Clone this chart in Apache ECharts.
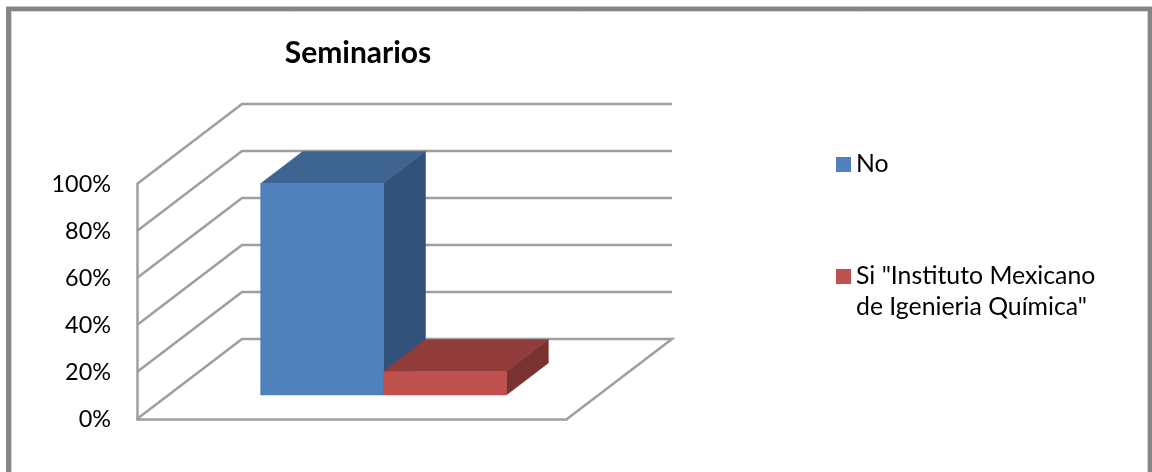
<!DOCTYPE html>
<html>
<head>
<meta charset="utf-8">
<style>html,body{margin:0;padding:0;background:#fff}#c{width:1152px;height:472px}</style>
<script src="https://cdn.jsdelivr.net/npm/echarts@6/dist/echarts.min.js"></script>
</head>
<body>
<div id="c"></div>
<script>
const chartTitle = 'Seminarios';
const seriesNames = ['No', 'Si "Instituto Mexicano de Igenieria Química"'];
const seriesValues = [90, 10];
const yTicks = [0, 20, 40, 60, 80, 100];
const frontColors = ['#4f81bd', '#c0504d'];
const topColors = ['#3e6591', '#913c3a'];
const sideColors = ['#31527a', '#7a3230'];
const FONT = 'Lato';
const GRID_COLOR = '#9f9f9f';

// Oblique projection of the 3D plot box, in axis units
const DEPTH_X = 105 / 430;
const DEPTH_Y = 34;
const GAP_WIDTH = 1.5;
const GAP_DEPTH = 1.5;
const barW = 1 / (seriesNames.length + GAP_WIDTH);
const barD = 1 / (1 + GAP_DEPTH);
const z0 = (1 - barD) / 2, z1 = z0 + barD;

function p3(api, x, y, z) {
  return api.coord([x + z * DEPTH_X, y + z * DEPTH_Y]);
}
function renderWalls(params, api) {
  const t = api.value(0);
  const style = { stroke: GRID_COLOR, lineWidth: 2.5, fill: null, lineJoin: 'miter' };
  const pts = [p3(api, 0, t, 0), p3(api, 0, t, 1), p3(api, 1, t, 1)];
  if (t === 0) pts.push(p3(api, 1, t, 0));
  return { type: 'polyline', shape: { points: pts }, style };
}
function renderBar(params, api) {
  const i = params.seriesIndex - 1;
  const v = api.value(0);
  const x0 = (GAP_WIDTH / 2) * barW + i * barW, x1 = x0 + barW;
  const poly = (points, fill) => ({ type: 'polygon', shape: { points }, style: { fill, stroke: fill, lineWidth: 0.5 } });
  return {
    type: 'group',
    children: [
      poly([p3(api, x0, v, z0), p3(api, x0, v, z1), p3(api, x1, v, z1), p3(api, x1, v, z0)], topColors[i]),
      poly([p3(api, x1, 0, z0), p3(api, x1, 0, z1), p3(api, x1, v, z1), p3(api, x1, v, z0)], sideColors[i]),
      poly([p3(api, x0, 0, z0), p3(api, x1, 0, z0), p3(api, x1, v, z0), p3(api, x0, v, z0)], frontColors[i])
    ]
  };
}

const chart = echarts.init(document.getElementById('c'), null, { renderer: 'canvas' });
chart.setOption({
  backgroundColor: '#fff',
  animation: false,
  title: {
    text: chartTitle, left: 358, top: 38, textAlign: 'center', padding: 0,
    textStyle: { fontFamily: FONT, fontSize: 30, fontWeight: 'bold', color: '#000' }
  },
  legend: [
    {
      data: [{ name: seriesNames[0], icon: 'rect' }], orient: 'vertical', left: 836, top: 148, padding: 0,
      itemWidth: 15, itemHeight: 15, itemGap: 0,
      textStyle: { fontFamily: FONT, fontSize: 24.8, color: '#000', lineHeight: 31, padding: [2, 0, 0, 0] }
    },
    {
      data: [{ name: seriesNames[1], icon: 'rect' }], orient: 'vertical', left: 836, top: 229, padding: 0,
      itemWidth: 15, itemHeight: 15, itemGap: 0,
      formatter: () => '\nSi "Instituto Mexicano\nde Igenieria Química"',
      textStyle: { fontFamily: FONT, fontSize: 24.8, color: '#000', lineHeight: 31, padding: [2, 0, 0, 0] }
    }
  ],
  grid: { left: 137, right: 585, top: 184, bottom: 53, containLabel: false },
  xAxis: {
    type: 'value', min: 0, max: 1,
    axisLine: { show: true, onZero: false, lineStyle: { color: GRID_COLOR, width: 2.5 } },
    axisTick: { show: false }, axisLabel: { show: false }, splitLine: { show: false }
  },
  yAxis: {
    type: 'value', min: 0, max: 100, interval: 20,
    axisLine: { show: true, lineStyle: { color: GRID_COLOR, width: 2.5 } },
    axisTick: { show: false }, splitLine: { show: false },
    axisLabel: { formatter: '{value}%', margin: 26, padding: [4, 0, 0, 0], fontFamily: FONT, fontSize: 23.4, color: '#000' }
  },
  series: [
    { type: 'custom', name: 'walls', clip: false, silent: true, renderItem: renderWalls, data: yTicks.map(t => [t]), encode: { y: 0 } },
    ...seriesNames.map((name, i) => ({
      type: 'custom', name, clip: false, renderItem: renderBar,
      itemStyle: { color: frontColors[i] },
      data: [[seriesValues[i]]], encode: { y: 0 }
    }))
  ],
  graphic: [
    { type: 'rect', silent: true, z: 100, shape: { x: 8.5, y: 9, width: 1142, height: 700 }, style: { fill: null, stroke: '#868686', lineWidth: 5 } },
    { type: 'rect', silent: true, z: 100, shape: { x: 11.5, y: 11.5, width: 1136, height: 700 }, style: { fill: null, stroke: '#d4d4d4', lineWidth: 1 } }
  ]
});
</script>
</body>
</html>
